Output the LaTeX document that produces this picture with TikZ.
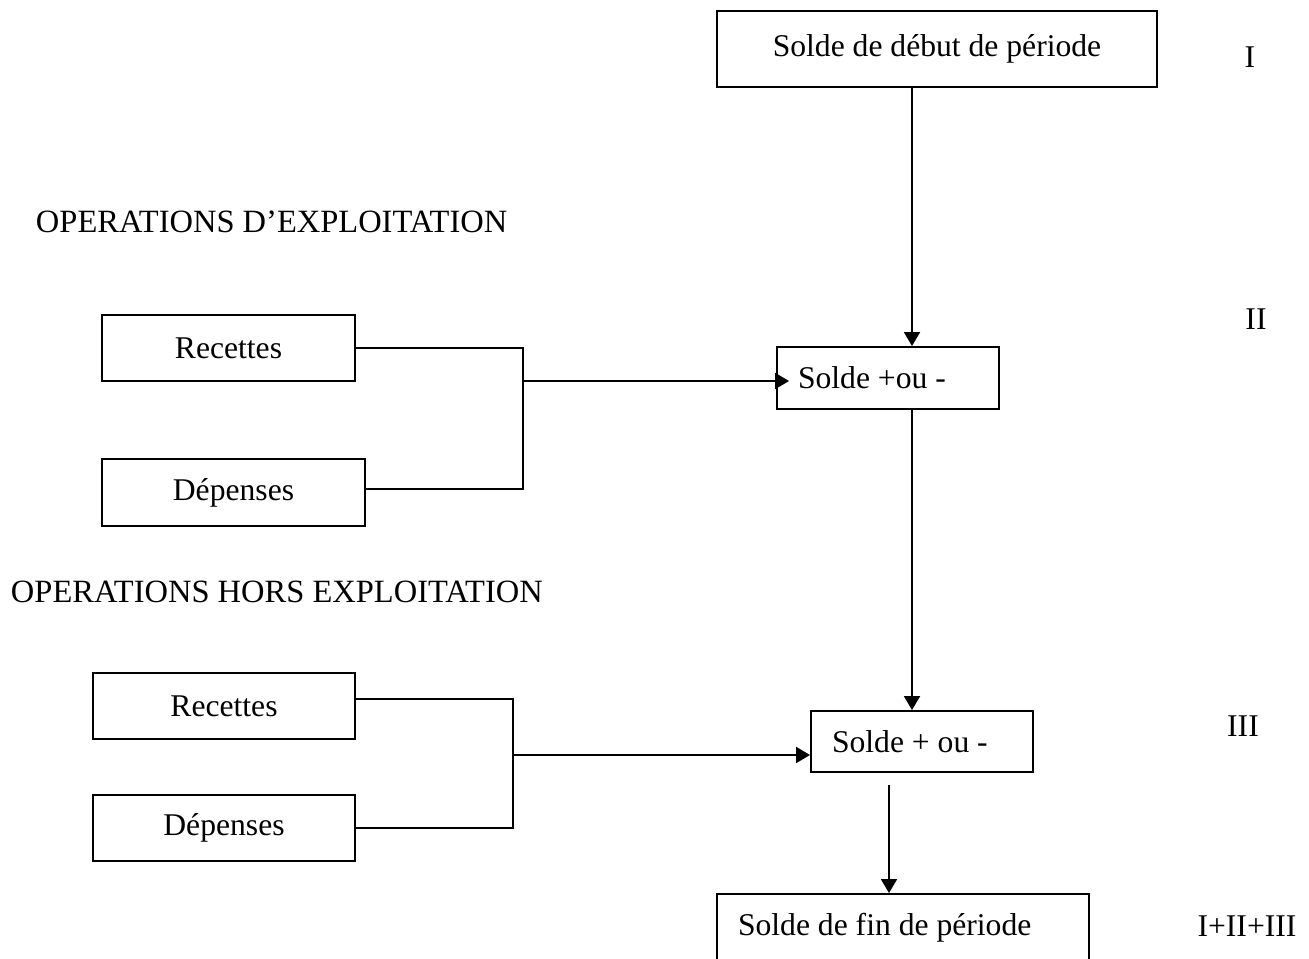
\documentclass[tikz,border=0pt]{standalone}
\usepackage{fontspec}
\setmainfont{Liberation Serif}
\usepackage{tikz}
\usetikzlibrary{arrows.meta}

\begin{document}
\begin{tikzpicture}[x=0.02cm,y=-0.02cm,>={Triangle[length=0.28cm,width=0.32cm]},
                    line width=1.1pt,font=\fontsize{18}{21.6}\selectfont,
                    bloc/.style={draw,rectangle,inner sep=0pt},
                    solde/.style={bloc,align=flush left,inner xsep=0.42cm},
                    titre/.style={anchor=west,inner sep=0pt,font=\fontsize{18.5}{22}\selectfont},
                    chiffre/.style={inner sep=0pt},
                    liaison/.style={line width=0.85pt}]
\useasboundingbox (0,0) rectangle (1309,959);
\node[bloc,minimum width=8.8cm,minimum height=1.52cm] (debut) at (937,49) {Solde de début de période};
\node[titre] (expl) at (35,222) {OPERATIONS D’EXPLOITATION};
\node[bloc,minimum width=5.06cm,minimum height=1.32cm] (rec1) at (228.5,348) {Recettes};
\node[bloc,minimum width=5.26cm,minimum height=1.34cm] (dep1) at (233.5,492.5) {Dépenses};
\node[solde,text width=3.6cm,minimum height=1.24cm] (solde1) at (888,378) {Solde +ou -};
\node[titre] (hors) at (10,592) {OPERATIONS HORS EXPLOITATION};
\node[bloc,minimum width=5.24cm,minimum height=1.32cm] (rec2) at (224,706) {Recettes};
\node[bloc,minimum width=5.24cm,minimum height=1.32cm] (dep2) at (224,828) {Dépenses};
\node[solde,text width=3.6cm,minimum height=1.22cm] (solde2) at (922,741.5) {Solde + ou -};
\node[solde,text width=6.6cm,minimum height=1.36cm] (fin) at (903,928) {Solde de fin de période};
\node[chiffre] (n1) at (1250,57) {I};
\node[chiffre] (n2) at (1256,319) {II};
\node[chiffre] (n3) at (1243,726) {III};
\node[chiffre] (n4) at (1247,926) {I+II+III};
\coordinate (c1) at (912,0);
\coordinate (c2) at (889,0);
\coordinate (j1) at (523,381);
\coordinate (j2) at (513,755);
\draw[->] (debut.south -| c1) -- (solde1.north -| c1);
\draw[->] (solde1.south -| c1) -- (solde2.north -| c1);
\draw[->,shorten <=0.24cm] (solde2.south -| c2) -- (fin.north -| c2);
\draw[liaison] (rec1.east) -| (j1) |- ([yshift=0.07cm]dep1.east);
\draw[->,shorten >=-0.26cm] (j1) -- (j1 -| solde1.west);
\draw[liaison] ([yshift=0.14cm]rec2.east) -| (j2) |- (dep2.east);
\draw[->] (j2) -- (j2 -| solde2.west);
\end{tikzpicture}
\end{document}
